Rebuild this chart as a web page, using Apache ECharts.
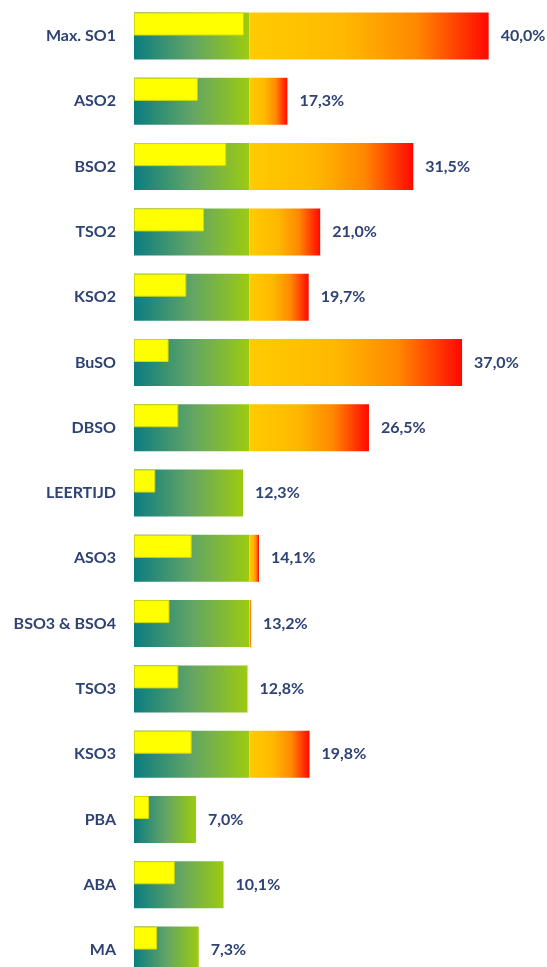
<!DOCTYPE html>
<html>
<head>
<meta charset="utf-8">
<script src="https://cdn.jsdelivr.net/npm/echarts@6/dist/echarts.min.js"></script>
<style>
  html, body { margin: 0; padding: 0; background: #ffffff; }
  #chart { width: 547px; height: 967px; }
</style>
</head>
<body>
<div id="chart"></div>
<script>
// data
const categories = ['Max. SO1', 'ASO2', 'BSO2', 'TSO2', 'KSO2', 'BuSO', 'DBSO', 'LEERTIJD',
  'ASO3', 'BSO3 & BSO4', 'TSO3', 'KSO3', 'PBA', 'ABA', 'MA'];
const totals = [40.0, 17.3, 31.5, 21.0, 19.7, 37.0, 26.5, 12.3, 14.1, 13.2, 12.8, 19.8, 7.0, 10.1, 7.3];
const yellowValues = [12.4, 7.2, 10.4, 7.9, 5.9, 3.9, 5.0, 2.4, 6.5, 4.0, 5.0, 6.5, 1.7, 4.6, 2.6];
const threshold = 13;

const greenPart = totals.map(v => Math.min(v, threshold));
const orangePart = totals.map(v => Math.max(v - threshold, 0));

const chart = echarts.init(document.getElementById('chart'));

const labelColor = '#2e4374';
const rowTop = 3.4;
const rowHeight = 979.3;
const xMax = 45;
const gridWidth = 399;

let option = {
  animation: false,
  grid: [
    {left: 134, top: rowTop, width: gridWidth, height: rowHeight, outerBoundsMode: 'none', containLabel: false},
    {left: 134, top: rowTop - 12, width: gridWidth, height: rowHeight, outerBoundsMode: 'none', containLabel: false}
  ],
  xAxis: [
    {gridIndex: 0, type: 'value', min: 0, max: xMax, show: false},
    {gridIndex: 1, type: 'value', min: 0, max: xMax, show: false}
  ],
  yAxis: [
    {
      gridIndex: 0,
      type: 'category',
      data: categories,
      inverse: true,
      axisLine: {show: false},
      axisTick: {show: false},
      axisLabel: {
        margin: 18,
        color: labelColor,
        fontFamily: 'Lato',
        fontWeight: 'bold',
        fontSize: 16
      }
    },
    {gridIndex: 1, type: 'category', data: categories, inverse: true, show: false}
  ],
  series: [
    {
      name: 'groen',
      type: 'bar',
      stack: 'total',
      barWidth: 47,
      data: greenPart,
      itemStyle: {
        color: new echarts.graphic.LinearGradient(0, 0, 1, 0, [
          {offset: 0, color: '#0b7d80'},
          {offset: 0.5, color: '#62a466'},
          {offset: 1, color: '#9ccb10'}
        ])
      }
    },
    {
      name: 'oranje',
      type: 'bar',
      stack: 'total',
      barWidth: 47,
      data: orangePart,
      itemStyle: {
        color: new echarts.graphic.LinearGradient(0, 0, 1, 0, [
          {offset: 0, color: '#ffcc00'},
          {offset: 0.4, color: '#ffb800'},
          {offset: 0.7, color: '#ff8800'},
          {offset: 1, color: '#ff0800'}
        ])
      },
      label: {
        show: true,
        position: 'right',
        distance: 12,
        color: labelColor,
        fontFamily: 'Lato',
        fontWeight: 'bold',
        fontSize: 16,
        formatter: p => totals[p.dataIndex].toFixed(1).replace('.', ',') + '%'
      }
    },
    {
      name: 'geel',
      type: 'bar',
      xAxisIndex: 1,
      yAxisIndex: 1,
      barWidth: 23,
      data: yellowValues,
      itemStyle: {
        color: '#ffff00',
        borderColor: '#d2d80c',
        borderWidth: 1
      }
    }
  ]
};

chart.setOption(option);
</script>
</body>
</html>
